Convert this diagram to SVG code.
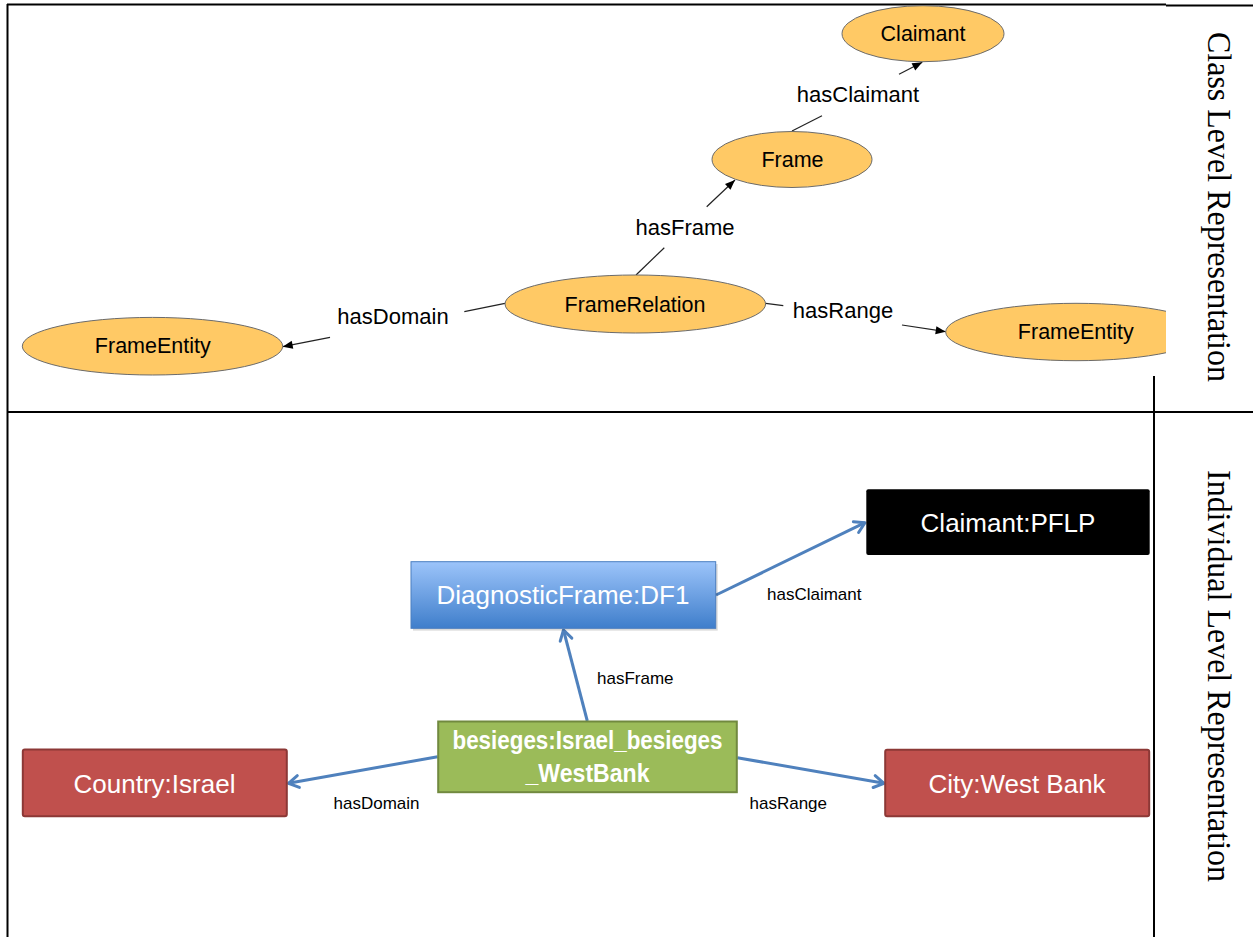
<svg xmlns="http://www.w3.org/2000/svg" width="1253" height="937" viewBox="0 0 1253 937">
<style>
.ell{fill:#FFC965;stroke:#6b6b6b;stroke-width:1}
.et{font-family:"Liberation Sans",Arial,sans-serif;font-size:21.5px;fill:#000;text-anchor:middle}
.tl{font-family:"Liberation Sans",Arial,sans-serif;font-size:22px;fill:#000;text-anchor:middle}
.bl{font-family:"Liberation Sans",Arial,sans-serif;font-size:17px;fill:#000}
.tc{stroke:#222;stroke-width:1.2;fill:none}
.bc{stroke:#4F81BD;stroke-width:3;fill:none}
.bt{font-family:"Liberation Sans",Arial,sans-serif;font-size:26px;fill:#fff;text-anchor:middle}
.side{font-family:"Liberation Serif","Times New Roman",serif;font-size:33px;fill:#000}
.frame{stroke:#000;stroke-width:2;fill:none}
</style>
<defs>
<marker id="ah" markerUnits="userSpaceOnUse" markerWidth="10" markerHeight="8" refX="10" refY="4" orient="auto" overflow="visible">
<path d="M0,0 L10,4 L0,8 z" fill="#000"/>
</marker>
<marker id="ob" markerUnits="userSpaceOnUse" markerWidth="16" markerHeight="16" refX="12" refY="7" orient="auto" overflow="visible">
<path d="M2,1 L12,7 L2,13" fill="none" stroke="#4F81BD" stroke-width="3" stroke-linecap="round" stroke-linejoin="round"/>
</marker>
<linearGradient id="blue" x1="0" y1="0" x2="0" y2="1">
<stop offset="0" stop-color="#9CC4FA"/>
<stop offset="1" stop-color="#3F7ECB"/>
</linearGradient>
<clipPath id="clipR"><rect x="0" y="0" width="1166" height="400"/></clipPath>
</defs>

<g id="frame-lines">
<line class="frame" x1="7" y1="4.5" x2="1166" y2="4.5"/>
<line class="frame" x1="1166" y1="5.5" x2="1253" y2="5.5"/>
<line class="frame" x1="7.5" y1="4" x2="7.5" y2="937"/>
<line class="frame" x1="7" y1="412" x2="1253" y2="412"/>
<line class="frame" x1="1154" y1="376" x2="1154" y2="937"/>
</g>

<g id="side-labels">
<text class="side" transform="translate(1208,32) rotate(90)" textLength="350" lengthAdjust="spacingAndGlyphs">Class Level Representation</text>
<text class="side" transform="translate(1208,470) rotate(90)" textLength="412" lengthAdjust="spacingAndGlyphs">Individual Level Representation</text>
</g>

<g id="connectors">
<line class="tc" x1="792" y1="131" x2="822" y2="115.7"/>
<line class="tc" x1="899" y1="74.3" x2="922.3" y2="62.3" marker-end="url(#ah)"/>
<text class="tl" x="858" y="102">hasClaimant</text>
<line class="tc" x1="636" y1="275" x2="664.3" y2="247.7"/>
<line class="tc" x1="706.7" y1="206.7" x2="735" y2="180" marker-end="url(#ah)"/>
<text class="tl" x="685" y="235">hasFrame</text>
<line class="tc" x1="505" y1="303.3" x2="464.3" y2="311.7"/>
<line class="tc" x1="330" y1="337.3" x2="282.7" y2="346.7" marker-end="url(#ah)"/>
<text class="tl" x="393" y="324">hasDomain</text>
<line class="tc" x1="765.7" y1="303.3" x2="783.3" y2="305.7"/>
<line class="tc" x1="902" y1="325" x2="945.7" y2="331.7" marker-end="url(#ah)"/>
<text class="tl" x="843" y="318">hasRange</text>

<line class="bc" x1="716" y1="595" x2="865" y2="522.7" marker-end="url(#ob)"/>
<text class="bl" x="767" y="600">hasClaimant</text>
<line class="bc" x1="587.3" y1="721" x2="563.5" y2="630" marker-end="url(#ob)"/>
<text class="bl" x="597" y="683.5">hasFrame</text>
<line class="bc" x1="437.7" y1="756.7" x2="288.5" y2="783.3" marker-end="url(#ob)"/>
<text class="bl" x="333.5" y="808.5">hasDomain</text>
<line class="bc" x1="737.3" y1="757.7" x2="884" y2="783.3" marker-end="url(#ob)"/>
<text class="bl" x="749.5" y="808.5">hasRange</text>
</g>

<g id="n-claimant">
<ellipse class="ell" cx="923" cy="33.7" rx="81" ry="28"/>
<text class="et" x="923" y="40.7">Claimant</text>
</g>
<g id="n-frame">
<ellipse class="ell" cx="792" cy="159.5" rx="80" ry="28"/>
<text class="et" x="792.5" y="166.7">Frame</text>
</g>
<g id="n-framerelation">
<ellipse class="ell" cx="635.3" cy="304" rx="130.3" ry="29"/>
<text class="et" x="635" y="312.3">FrameRelation</text>
</g>
<g id="n-frameentity-left">
<ellipse class="ell" cx="152.5" cy="346.2" rx="130.2" ry="28.8"/>
<text class="et" x="152.8" y="353.3">FrameEntity</text>
</g>
<g id="n-frameentity-right" clip-path="url(#clipR)">
<ellipse class="ell" cx="1076" cy="332" rx="130.3" ry="28.7"/>
<text class="et" x="1075.8" y="339.3">FrameEntity</text>
</g>

<g id="n-claimant-pflp">
<rect x="866.3" y="489.3" width="283.4" height="65.7" rx="2" fill="#000"/>
<text class="bt" x="1008" y="531.7">Claimant:PFLP</text>
</g>
<g id="n-df1">
<rect x="413" y="564" width="304.7" height="66.6" fill="#000" opacity="0.15"/>
<rect x="411" y="561.7" width="304.7" height="66.6" fill="url(#blue)" stroke="#4A7EC0" stroke-width="1"/>
<text class="bt" x="563" y="604" font-size="27">DiagnosticFrame:DF1</text>
</g>
<g id="n-besieges">
<rect x="438.2" y="721.5" width="298.6" height="70.7" fill="#9BBB59" stroke="#71893F" stroke-width="2"/>
<text class="bt" x="587.5" y="749.3" font-weight="bold" font-size="21" textLength="270" lengthAdjust="spacingAndGlyphs">besieges:Israel_besieges</text>
<text class="bt" x="587.5" y="781.7" font-weight="bold" font-size="21" textLength="124" lengthAdjust="spacingAndGlyphs">_WestBank</text>
</g>
<g id="n-country-israel">
<rect x="22.8" y="749.5" width="264" height="66.7" rx="2" fill="#C0504D" stroke="#8C3836" stroke-width="2"/>
<text class="bt" x="154.5" y="793.3">Country:Israel</text>
</g>
<g id="n-city-westbank">
<rect x="885.2" y="749.8" width="264" height="66.4" rx="2" fill="#C0504D" stroke="#8C3836" stroke-width="2"/>
<text class="bt" x="1017" y="793.3">City:West Bank</text>
</g>
</svg>
